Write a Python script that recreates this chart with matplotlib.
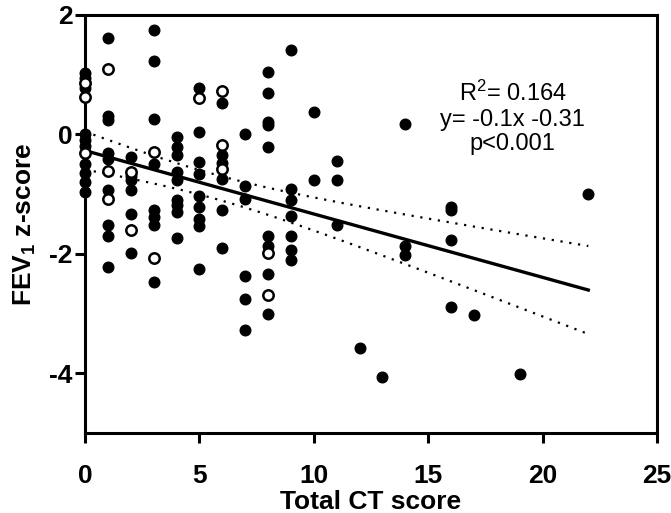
import matplotlib
matplotlib.use("Agg")
import matplotlib.pyplot as plt
import numpy as np

plt.rcParams['font.family'] = ['Liberation Sans', 'DejaVu Sans']
plt.rcParams['mathtext.fontset'] = 'custom'
plt.rcParams['mathtext.rm'] = 'Liberation Sans'
plt.rcParams['mathtext.bf'] = 'Liberation Sans:bold'
plt.rcParams['mathtext.default'] = 'regular'
plt.rcParams['axes.unicode_minus'] = False

# filled circles
filled_x = [0, 0, 0, 0, 0, 0, 0, 0, 0, 0,
            1, 1, 1, 1, 1, 1, 1, 1, 1,
            2, 2, 2, 2, 2, 2,
            3, 3, 3, 3, 3, 3, 3, 3,
            4, 4, 4, 4, 4, 4, 4, 4, 4,
            5, 5, 5, 5, 5, 5, 5, 5, 5,
            6, 6, 6, 6, 6, 6,
            7, 7, 7, 7, 7, 7,
            8, 8, 8, 8, 8, 8, 8, 8, 8,
            9, 9, 9, 9, 9, 9, 9,
            10, 10, 11, 11, 11, 12, 13, 14, 14, 14,
            16, 16, 16, 16, 17, 19, 22]
filled_y = [1.03, 0.95, 0.78, 0.0, -0.1, -0.2, -0.5, -0.65, -0.8, -0.97,
            1.61, 0.3, 0.24, -0.31, -0.41, -0.94, -1.52, -1.70, -2.22,
            -0.38, -0.7, -0.77, -0.94, -1.33, -1.99,
            1.75, 1.23, 0.25, -0.49, -1.27, -1.38, -1.52, -2.47,
            -0.05, -0.22, -0.35, -0.63, -0.77, -1.1, -1.19, -1.3, -1.74,
            0.77, 0.04, -0.47, -0.66, -1.03, -1.22, -1.42, -1.53, -2.25,
            0.53, -0.35, -0.48, -0.74, -1.27, -1.9,
            0.01, -0.86, -1.09, -2.37, -2.76, -3.27,
            1.05, 0.69, 0.21, 0.15, -0.21, -1.70, -1.87, -2.34, -3.01,
            1.42, -0.91, -1.1, -1.36, -1.7, -1.94, -2.11,
            0.38, -0.77, -0.45, -0.77, -1.52, -3.57, -4.07, 0.17, -1.87, -2.02,
            -1.22, -1.27, -1.77, -2.89, -3.03, -4.01, -1.0]

# open circles
open_x = [0, 0, 0, 1, 1, 1, 2, 2, 3, 3, 5, 6, 6, 6, 8, 8]
open_y = [0.86, 0.63, -0.32, 1.09, -0.62, -1.08, -0.63, -1.6, -0.3, -2.07,
          0.6, 0.73, -0.18, -0.58, -1.99, -2.69]

stats_text = "R$^2$= 0.164\ny= -0.1x -0.31\np<0.001"

# linear fit with 95% confidence band
all_x = np.array(filled_x + open_x, dtype=float)
all_y = np.array(filled_y + open_y, dtype=float)
n = len(all_x)
slope, intercept = np.polyfit(all_x, all_y, 1)
resid = all_y - (slope * all_x + intercept)
s = np.sqrt(np.sum(resid ** 2) / (n - 2))
xbar = all_x.mean()
sxx = np.sum((all_x - xbar) ** 2)
xs = np.linspace(all_x.min(), all_x.max(), 100)
fit = slope * xs + intercept
half = 1.98 * s * np.sqrt(1 / n + (xs - xbar) ** 2 / sxx)

fig = plt.figure(figsize=(6.71, 5.13), dpi=100)
ax = fig.add_axes([0.1267, 0.156, 0.8523, 0.815])

ax.scatter(filled_x, filled_y, s=58, color='black', zorder=3, clip_on=False)
ax.scatter(open_x, open_y, s=56, facecolor='white', edgecolor='black',
           linewidth=1.8, zorder=4, clip_on=False)
ax.plot(xs, fit, color='black', lw=2.4, zorder=2)
ax.plot(xs, fit + half, color='black', lw=1.6, ls=(0, (1, 3)), zorder=2)
ax.plot(xs, fit - half, color='black', lw=1.6, ls=(0, (1, 3)), zorder=2)

ax.text(18.7, 0.27, stats_text, ha='center', va='center', fontsize=17,
        linespacing=1.15)

ax.set_xlim(0, 25)
ax.set_ylim(-5, 2)
ax.set_xticks([0, 5, 10, 15, 20, 25])
ax.set_yticks([2, 0, -2, -4])
ax.set_yticklabels(['2', '0', '-2', '-4'])
for sp in ax.spines.values():
    sp.set_linewidth(2.2)
ax.tick_params(width=2.2, length=7, labelsize=19)
ax.tick_params(axis='x', pad=15)
ax.tick_params(axis='y', pad=2)
for lab in ax.get_xticklabels() + ax.get_yticklabels():
    lab.set_fontweight('bold')

ax.set_xlabel('Total CT score', fontsize=19, fontweight='bold', labelpad=2)
ax.set_ylabel(r'FEV$_\mathbf{1}$ z-score', fontsize=19, fontweight='bold',
              labelpad=8)

fig.savefig('out.png', dpi=100)
